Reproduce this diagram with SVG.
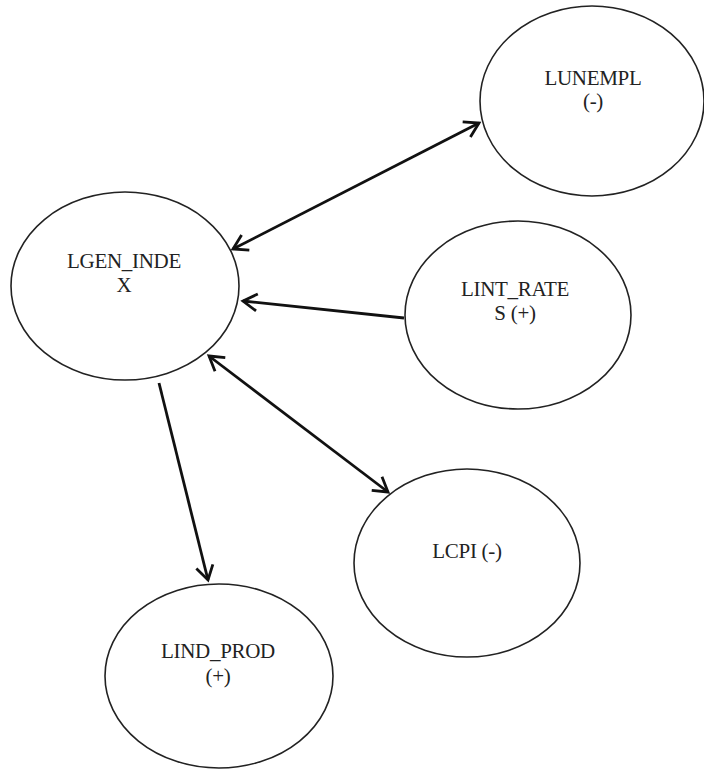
<svg xmlns="http://www.w3.org/2000/svg" width="704" height="769" viewBox="0 0 704 769">
<style>
.node ellipse{fill:#fff;stroke:#222;stroke-width:1.6}
.node text{font-family:"Liberation Serif","Times New Roman",serif;font-size:21px;fill:#222;text-anchor:middle;letter-spacing:-0.3px}
.edge{fill:none;stroke:#111;stroke-width:2.8}
</style>
<defs>
<marker id="arr" markerUnits="userSpaceOnUse" markerWidth="22" markerHeight="22" viewBox="-18 -11 22 22" refX="0" refY="0" orient="auto-start-reverse">
<path d="M-14,-8.5 L0,0 L-14,8.5" fill="none" stroke="#111" stroke-width="2.8" stroke-linejoin="miter"/>
</marker>
</defs>
<rect width="704" height="769" fill="#fff"/>
<g id="n-lgen" class="node">
<ellipse cx="125" cy="286" rx="114" ry="94"/>
<text x="124" y="268">LGEN_INDE</text>
<text x="124" y="292">X</text>
</g>
<g id="n-lunempl" class="node">
<ellipse cx="592" cy="101" rx="112" ry="95"/>
<text x="593" y="85">LUNEMPL</text>
<text x="593" y="108">(-)</text>
</g>
<g id="n-lint" class="node">
<ellipse cx="518" cy="315" rx="113" ry="94"/>
<text x="515" y="296">LINT_RATE</text>
<text x="515" y="320">S (+)</text>
</g>
<g id="n-lcpi" class="node">
<ellipse cx="467" cy="563" rx="113" ry="94"/>
<text x="467" y="558">LCPI (-)</text>
</g>
<g id="n-lind" class="node">
<ellipse cx="219" cy="676" rx="114" ry="92"/>
<text x="218" y="658">LIND_PROD</text>
<text x="218" y="683">(+)</text>
</g>
<g id="connectors">
<line class="edge" x1="233" y1="249" x2="479" y2="123" marker-start="url(#arr)" marker-end="url(#arr)"/>
<line class="edge" x1="404" y1="318" x2="243" y2="301" marker-end="url(#arr)"/>
<line class="edge" x1="209" y1="356" x2="388" y2="492" marker-start="url(#arr)" marker-end="url(#arr)"/>
<line class="edge" x1="159" y1="383" x2="208" y2="580" marker-end="url(#arr)"/>
</g>
</svg>
